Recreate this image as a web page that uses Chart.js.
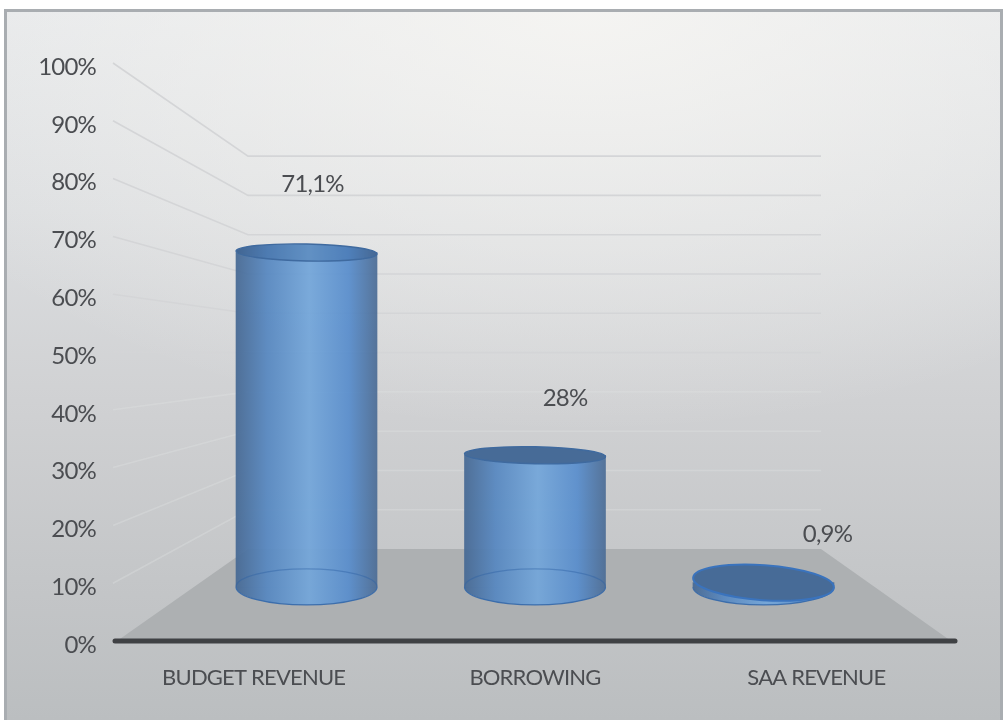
<!DOCTYPE html>
<html>
<head>
<meta charset="utf-8">
<title>Budget revenue chart</title>
<script src="https://cdn.jsdelivr.net/npm/chart.js@4"></script>
<style>
    html, body { margin: 0; padding: 0; background: #fff; }
    #panel {
        position: absolute; left: 4px; top: 9px; width: 999px; height: 711px;
        box-sizing: border-box; border: 3px solid #a9adb1; border-bottom: 0;
        background:
            radial-gradient(ellipse 760px 420px at 58% 0%, rgba(247,246,243,0.85), rgba(247,246,243,0) 100%),
            linear-gradient(180deg, #e6e8ea 0%, #dcdee0 28%, #d0d1d3 55%, #c4c6c8 80%, #bbbec0 100%);
    }
    #wrap { position: absolute; left: 0; top: 0; width: 1006px; height: 720px; }
</style>
</head>
<body>
<div id="panel"></div>
<div id="wrap"><canvas id="chart" width="1006" height="720"></canvas></div>
<script>
// Data
const categories = ['BUDGET REVENUE', 'BORROWING', 'SAA REVENUE'];
const shares = [71.1, 28, 0.9];
const shareLabels = ['71,1%', '28%', '0,9%'];
const tickValues = [0, 10, 20, 30, 40, 50, 60, 70, 80, 90, 100];

// Hand placed value labels, px away from the cylinder top
const labelNudges = [[6, -68], [30, -57], [64, -48]];

const FONT = 'Lato, sans-serif';
const TEXT = '#4b4d51';
const BODY_ALPHA = 0.95;
const wallInsetLeft = 135;
const wallInsetRight = 136;

function bodyGradient(ctx, left, right, alpha) {
    const g = ctx.createLinearGradient(left, 0, right, 0);
    g.addColorStop(0, `rgba(72,106,148,${alpha})`);
    g.addColorStop(0.22, `rgba(88,136,192,${alpha})`);
    g.addColorStop(0.52, `rgba(116,166,217,${alpha})`);
    g.addColorStop(0.8, `rgba(90,142,204,${alpha})`);
    g.addColorStop(1, `rgba(78,110,150,${alpha})`);
    return g;
}

// Floor, walls and their grid lines, all hung on the front and back scales
const roomPlugin = {
    id: 'room',
    beforeDraw(chart) {
        // Calibri is narrower than Lato
        chart.ctx.letterSpacing = '-0.8px';
    },
    beforeDatasetsDraw(chart) {
        const { ctx, chartArea: a, scales } = chart;
        const backLeft = a.left + wallInsetLeft;
        const backRight = a.right - wallInsetRight;
        ctx.save();

        ctx.lineWidth = 1.6;
        tickValues.forEach(t => {
            if (t === 0) return;
            ctx.strokeStyle = t >= 50 ? '#d4d5d7' : 'rgba(224,225,227,0.35)';
            ctx.beginPath();
            ctx.moveTo(a.left, scales.y.getPixelForValue(t));
            ctx.lineTo(backLeft, scales.yBack.getPixelForValue(t));
            ctx.lineTo(backRight, scales.yBack.getPixelForValue(t));
            ctx.stroke();
        });

        const y0 = scales.y.getPixelForValue(0);
        const yb = scales.yBack.getPixelForValue(0);
        ctx.fillStyle = '#adb0b2';
        ctx.beginPath();
        ctx.moveTo(a.left + 4, y0);
        ctx.lineTo(backLeft, yb);
        ctx.lineTo(backRight, yb);
        ctx.lineTo(a.right - 6, y0);
        ctx.closePath();
        ctx.fill();

        ctx.strokeStyle = '#3f4144';
        ctx.lineWidth = 5;
        ctx.lineCap = 'round';
        ctx.beginPath();
        ctx.moveTo(a.left + 2, y0);
        ctx.lineTo(a.right - 2, y0);
        ctx.stroke();
        ctx.restore();

        // lower half of the bottom cap hangs under each bar body
        chart.getDatasetMeta(0).data.forEach(bar => {
            const rx = bar.width / 2;
            ctx.save();
            ctx.fillStyle = bodyGradient(ctx, bar.x - rx, bar.x + rx, BODY_ALPHA);
            ctx.beginPath();
            ctx.ellipse(bar.x, bar.base, rx, 18, 0, 0, Math.PI);
            ctx.closePath();
            ctx.fill();
            ctx.strokeStyle = 'rgba(52,104,170,0.9)';
            ctx.lineWidth = 1.2;
            ctx.beginPath();
            ctx.ellipse(bar.x, bar.base, rx, 18, 0, 0, Math.PI);
            ctx.stroke();
            ctx.restore();
        });
    },
    afterDatasetsDraw(chart) {
        const { ctx } = chart;
        chart.getDatasetMeta(0).data.forEach((bar, i) => {
            const rx = bar.width / 2;
            const flat = bar.base - bar.y < 20;
            ctx.save();
            if (!flat) {
                // back edge of the floor ellipse seen through the body
                ctx.strokeStyle = 'rgba(46,98,165,0.45)';
                ctx.lineWidth = 1.2;
                ctx.beginPath();
                ctx.ellipse(bar.x, bar.base, rx, 18, 0, Math.PI, Math.PI * 2);
                ctx.stroke();
            }

            // top cap: tallest one is a see-through lid, the others are dark
            const ry = flat ? 17.5 : 8.5;
            ctx.beginPath();
            ctx.ellipse(bar.x, bar.y, rx, ry, flat ? 0.07 : 0.02, 0, Math.PI * 2);
            ctx.fillStyle = i === 0 ? bodyGradient(ctx, bar.x - rx, bar.x + rx, 1) : '#476b97';
            ctx.fill();
            if (i === 0) {
                ctx.fillStyle = 'rgba(50,90,140,0.28)';
                ctx.fill();
            }
            ctx.strokeStyle = flat ? '#3a73bd' : '#3f6a9f';
            ctx.lineWidth = flat ? 2 : 1.4;
            ctx.stroke();
            ctx.restore();

            ctx.save();
            ctx.font = `24px ${FONT}`;
            ctx.fillStyle = TEXT;
            ctx.textAlign = 'center';
            ctx.textBaseline = 'middle';
            ctx.fillText(shareLabels[i], bar.x + labelNudges[i][0], bar.y + labelNudges[i][1]);
            ctx.restore();
        });
    }
};

new Chart(document.getElementById('chart'), {
    type: 'bar',
    data: {
        labels: categories,
        datasets: [{
            data: shares.map((v, i) => ({ x: i, y: v })),
            xAxisID: 'xDepth',
            yAxisID: 'yDepth',
            barThickness: 141,
            borderWidth: 0,
            backgroundColor(c) {
                const mid = c.chart.scales.xDepth.getPixelForValue(c.dataIndex);
                if (!Number.isFinite(mid)) return '#5b8dc8';
                return bodyGradient(c.chart.ctx, mid - 70.5, mid + 70.5, BODY_ALPHA);
            }
        }]
    },
    plugins: [roomPlugin],
    options: {
        responsive: false,
        animation: false,
        layout: { padding: { top: 63, right: 49, bottom: 0, left: 0 } },
        plugins: { legend: { display: false }, tooltip: { enabled: false } },
        scales: {
            x: {
                type: 'category',
                labels: categories,
                offset: true,
                grid: { display: false, drawTicks: false },
                border: { display: false },
                ticks: { color: TEXT, font: { family: FONT, size: 22 }, padding: 24, maxRotation: 0 },
                afterFit(scale) { scale.height = 79; }
            },
            y: {
                min: 0,
                max: 100,
                afterBuildTicks(scale) { scale.ticks = tickValues.map(v => ({ value: v })); },
                grid: { display: false, drawTicks: false },
                border: { display: false },
                ticks: {
                    color: TEXT,
                    font: { family: FONT, size: 24 },
                    padding: 17,
                    labelOffset: 4,
                    callback: v => v + '%'
                },
                afterFit(scale) { scale.width = 113; }
            },
            // bars stand half way into the room, so they get their own scales
            xDepth: { type: 'linear', display: false, offset: false, min: -0.847, max: 2.847 },
            yDepth: { display: false, min: -11.5, max: 111.4 },
            yBack: { display: false, min: -23.4, max: 123.7 }
        }
    }
});
</script>
</body>
</html>
